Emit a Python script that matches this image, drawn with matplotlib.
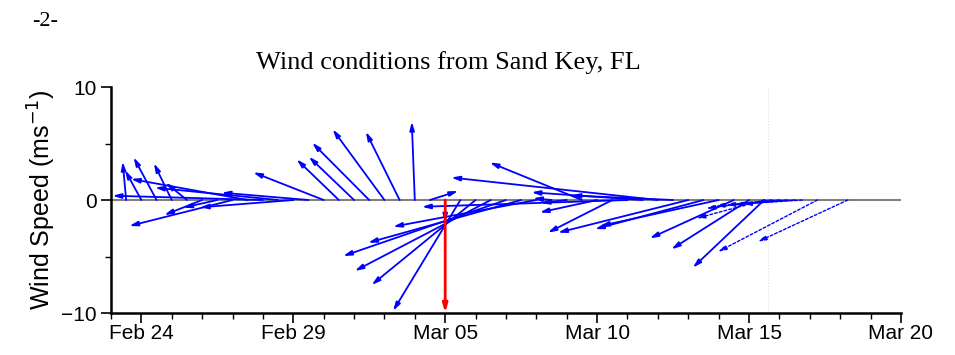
import numpy as np
import pandas as pd
import matplotlib
matplotlib.use('Agg')
import matplotlib.pyplot as plt
import matplotlib.dates as mdates

# observed winds, every 12 h (u east, v north, m/s)
obs_time = pd.date_range('2024-02-23 12:00', periods=43, freq='12h')
obs_u = [-0.31, -1.45, -2.03, -1.58, -1.88, -3.35, -3.02, -9.14, -10.34, -13.32,
         -10.90, -8.27, -7.69, -6.24, -3.74, -4.00, -5.05, -4.59, -2.99, -0.27,
         2.49, 0.00, -5.96, -9.21, -12.04, -14.42, -13.55, -12.68, -1.64, -2.30,
         -8.16, -5.08, -5.71, -18.20, -9.85, -18.30, -9.00, -11.53, -9.61, -10.50,
         -7.45, -6.88, -6.33]
obs_v = [3.39, 2.65, 3.78, 3.25, 1.53, -1.33, -0.68, -2.30, 1.86, 0.38,
         1.09, -0.65, 0.65, 2.45, 3.60, 3.83, 5.07, 6.26, 6.04, 6.93,
         0.80, -2.00, -9.82, -7.52, -6.28, -4.96, -3.78, -2.36, 0.15, -0.27,
         3.32, -1.10, -2.89, -0.60, 0.68, 1.99, 0.40, -2.89, -2.57, -2.30,
         -3.39, -4.36, -5.99]

# forecast winds (dashed)
fc_time = pd.to_datetime(['2024-03-15 12:00', '2024-03-15 18:00', '2024-03-16 00:00',
                          '2024-03-16 06:00', '2024-03-16 12:00', '2024-03-16 18:00',
                          '2024-03-17 06:00', '2024-03-18 06:00'])
fc_u = [-6.00, -5.80, -5.65, -5.37, -5.31, -5.25, -8.80, -7.96]
fc_v = [-1.62, -0.73, -0.53, -0.44, -0.40, -0.35, -4.58, -3.69]

# event marker
event_time = pd.Timestamp('2024-03-05')
event_v = -10
now_time = pd.Timestamp('2024-03-15 15:00')

tick_dates = pd.to_datetime(['2024-02-24', '2024-02-29', '2024-03-05',
                             '2024-03-10', '2024-03-15', '2024-03-20'])
x_start, x_end = pd.Timestamp('2024-02-23'), pd.Timestamp('2024-03-20')

fig = plt.figure(figsize=(9.55, 3.55), dpi=100)
ax = fig.add_axes([0.1162, 0.1183, 0.8272, 0.6366])

# days per m/s so that sticks keep true direction on screen
S = 11.3 / 30.4


def stick(t, u, v, color='blue', ls='-', lw=1.3):
    t0 = mdates.date2num(t)
    ax.annotate('', xy=(t0 + u * S, v), xytext=(t0, 0),
                arrowprops=dict(arrowstyle='-|>,head_length=0.7,head_width=0.2',
                                mutation_scale=7, color=color, lw=lw,
                                linestyle=ls, shrinkA=0, shrinkB=0))


ax.axhline(0, color='#808080', lw=1.5, zorder=1)
ax.axvline(mdates.date2num(now_time), color='#e0e0e0', lw=0.8, ls=':', zorder=0)

for t, u, v in zip(obs_time, obs_u, obs_v):
    stick(t, u, v)
for t, u, v in zip(fc_time, fc_u, fc_v):
    stick(t, u, v, ls=(0, (2, 1.5)), lw=1.0)
stick(event_time, 0, event_v, color='red', lw=2)

ax.set_xlim(mdates.date2num(x_start), mdates.date2num(x_end))
ax.set_ylim(-10, 10)
ax.set_yticks([-10, 0, 10])
ax.set_yticklabels(['\u221210', '0', '10'])
ax.set_yticks([-5, 5], minor=True)
ax.xaxis.set_major_locator(plt.FixedLocator(mdates.date2num(tick_dates)))
ax.xaxis.set_major_formatter(mdates.DateFormatter('%b %d'))
ax.xaxis.set_minor_locator(mdates.DayLocator())

ax.spines['top'].set_color('none')
ax.spines['right'].set_color('none')
ax.spines['left'].set_linewidth(1.8)
ax.spines['bottom'].set_linewidth(1.8)
ax.tick_params(axis='both', which='major', length=7, width=1.2, labelsize=15,
               direction='out')
ax.tick_params(axis='x', which='major', pad=1)
ax.tick_params(axis='both', which='minor', length=4, width=1.0, direction='out')
for lab in ax.get_xticklabels() + ax.get_yticklabels():
    lab.set_family('Liberation Sans')

ax.set_ylabel('Wind Speed (ms$^{-1}$)', family='Liberation Sans', fontsize=18,
              labelpad=2)
fig.text(0.469, 0.825, 'Wind conditions from Sand Key, FL', family='Liberation Serif',
         fontsize=19, ha='center', va='center')
fig.text(0.047, 0.94, '-2-', family='Liberation Serif', fontsize=16,
         ha='center', va='center')

fig.savefig('out.png', dpi=100)
